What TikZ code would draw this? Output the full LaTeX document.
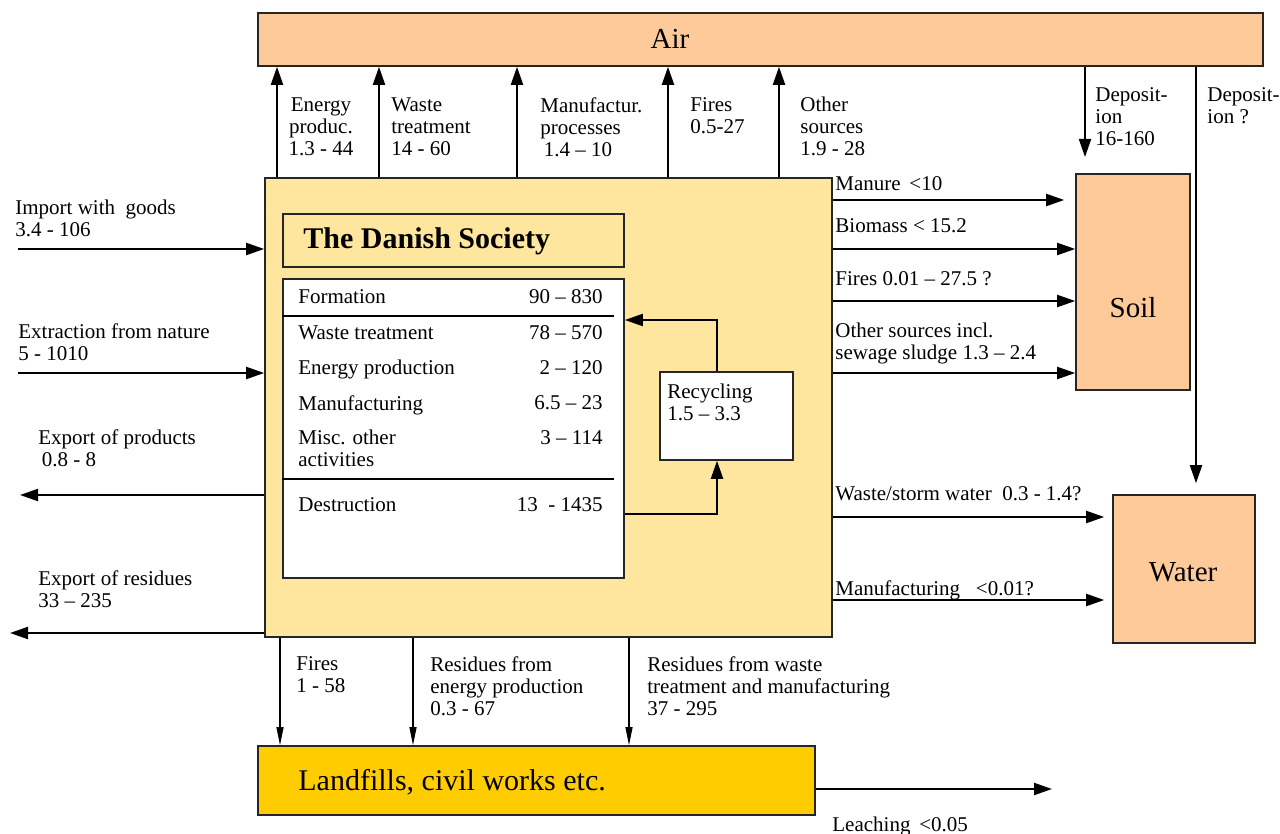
\documentclass[tikz,border=0pt]{standalone}
\usepackage{fontspec}
\newfontfamily\tnr{Liberation Serif}
\usetikzlibrary{arrows.meta}
\definecolor{peach}{HTML}{FFCA99}
\definecolor{sand}{HTML}{FFE69E}
\definecolor{gold}{HTML}{FFCC00}
\tikzset{
  lbl/.style={inner sep=0pt, anchor=north west, align=left, font=\tnr\fontsize{10.5}{11}\selectfont},
  big/.style={inner sep=0pt, font=\tnr\fontsize{14.5}{16}\selectfont},
  pool/.style={draw=black!85, line width=0.8pt, fill=peach, inner sep=0pt},
  flow/.style={line width=1pt, ->},
  thinflow/.style={line width=0.6pt, -{Triangle[length=9pt,width=3.5pt]}},
}
\begin{document}
\begin{tikzpicture}[>={Triangle[length=9pt,width=6pt]}, x=0.5pt, y=-0.5pt]
  \useasboundingbox (0,0) rectangle (1280,834);

  % compartments
  \node[pool, minimum width=502.5pt, minimum height=26.5pt] (air) at (760.5,39.5) {};
  \node[big] (airname) at (670,39) {Air};
  \node[pool, minimum width=57pt, minimum height=108pt] (soil) at (1133,282) {};
  \node[big] (soilname) at (1133,308) {Soil};
  \node[pool, minimum width=71pt, minimum height=74pt] (water) at (1184,569) {};
  \node[big] (watername) at (1183,572) {Water};
  \node[pool, fill=gold, minimum width=278.5pt, minimum height=34.5pt] (landfill) at (536.5,780.5) {};
  \node[big, anchor=west, font=\tnr\fontsize{15}{17}\selectfont] (landname) at (298,782) {Landfills, civil works etc.};

  % the society
  \node[pool, fill=sand, minimum width=283.5pt, minimum height=229.5pt] (society) at (548.5,407.5) {};
  \node[pool, fill=sand, minimum width=170.5pt, minimum height=26.5pt] (title) at (453.5,240.5) {};
  \node[big, anchor=west, font=\tnr\fontsize{15}{17}\selectfont\bfseries] (titletxt) at (303,241) {The Danish Society};
  \node[pool, fill=white, minimum width=170.5pt, minimum height=149.5pt] (table) at (453.5,428.5) {};
  \draw[line width=0.8pt] (table.west |- 0,316) -- (614,316);
  \draw[line width=1.2pt] (table.west |- 0,479) -- (614,479);
  \foreach \y/\a/\b in {298/Formation/90 – 830, 334/Waste treatment/78 – 570,
      369/Energy production/2 – 120, 404/Manufacturing/6.5 – 23,
      439/{Misc. other\\activities}/3 – 114, 506/Destruction/13 \ - 1435} {
    \node[lbl] (act\y) at (298,\y-9) {\a};
    \node[lbl, anchor=north east, align=right] (val\y) at (603,\y-9) {\b};
  }
  \node[pool, fill=white, minimum width=66.5pt, minimum height=44pt] (recyc) at (726.5,416) {};
  \node[lbl] (recyctxt) at (667,393-9) {Recycling\\1.5 – 3.3};
  \draw[flow] (table.east |- 0,514) -| (recyc.south -| 717,0);
  \draw[flow] (recyc.north -| 717,0) |- (table.east |- 0,320);

  % emissions to air
  \foreach \x in {277,379,517,668,779}
    \draw[flow] (society.north -| \x,0) -- (air.south -| \x,0);
  \node[lbl, align=center, anchor=north] (lenergy) at (321,97) {Energy\\produc.\\1.3 - 44};
  \node[lbl] (lwaste) at (391,97) {Waste\\treatment\\14 - 60};
  \node[lbl] (lmanuf) at (540,97) {Manufactur.\\processes\\ \,1.4 – 10};
  \node[lbl] (lfires) at (690,97) {Fires\\0.5-27};
  \node[lbl] (lother) at (800,97) {Other\\sources\\1.9 - 28};

  % deposition
  \coordinate (depend) at (1085,157);
  \draw[flow] (air.south -| depend) -- (depend);
  \draw[flow, shorten >=5.5pt] (air.south -| 1196,0) -- (water.north -| 1196,0);
  \node[lbl] (ldep1) at (1095,87) {Deposit-\\ion\\16-160};
  \node[lbl] (ldep2) at (1207,87) {Deposit-\\ion ?};

  % flows to soil and water
  \draw[flow, shorten >=5.5pt] (society.east |- 0,200) -- (soil.west |- 0,200);
  \draw[flow] (society.east |- 0,249) -- (soil.west |- 0,249);
  \draw[flow] (society.east |- 0,301) -- (soil.west |- 0,301);
  \draw[flow] (society.east |- 0,373) -- (soil.west |- 0,373);
  \draw[flow, shorten >=4pt] (society.east |- 0,517) -- (water.west |- 0,517);
  \draw[flow, shorten >=4pt] (society.east |- 0,600) -- (water.west |- 0,600);
  \node[lbl] (lmanure) at (835,176) {Manure \,<10};
  \node[lbl] (lbiomass) at (835,218) {Biomass < 15.2};
  \node[lbl] (lsfires) at (835,271) {Fires 0.01 – 27.5 ?};
  \node[lbl] (lsother) at (835,323) {Other sources incl.\\sewage sludge 1.3 – 2.4};
  \node[lbl] (lstorm) at (835,486) {Waste/storm water \ 0.3 - 1.4?};
  \node[lbl] (lwmanuf) at (835,580) {Manufacturing \ \ <0.01?};

  % import and export
  \coordinate (importin) at (18,249);
  \coordinate (extractin) at (18,373);
  \coordinate (exportout) at (20,495);
  \coordinate (residout) at (10,633);
  \draw[flow] (importin) -- (society.west |- importin);
  \draw[flow] (extractin) -- (society.west |- extractin);
  \draw[flow] (society.west |- exportout) -- (exportout);
  \draw[flow] (society.west |- residout) -- (residout);
  \node[lbl] (limport) at (15,200) {Import with \ goods\\3.4 - 106};
  \node[lbl] (lextract) at (18,323) {Extraction from nature\\5 - 1010};
  \node[lbl] (lexport) at (38,429) {Export of products\\ \,0.8 - 8};
  \node[lbl] (lresid) at (38,570) {Export of residues\\33 – 235};

  % to landfills
  \foreach \x in {280,413,629}
    \draw[thinflow] (society.south -| \x,0) -- (landfill.north -| \x,0);
  \node[lbl] (lbfires) at (296,656) {Fires\\1 - 58};
  \node[lbl] (lbenergy) at (430,656) {Residues from\\energy production\\0.3 - 67};
  \node[lbl] (lbwaste) at (647,656) {Residues from waste\\treatment and manufacturing\\37 - 295};
  \coordinate (leachout) at (1052,789);
  \draw[flow] (landfill.east |- leachout) -- (leachout);
  \node[lbl] (lleach) at (832,817) {Leaching \,<0.05};
\end{tikzpicture}
\end{document}
